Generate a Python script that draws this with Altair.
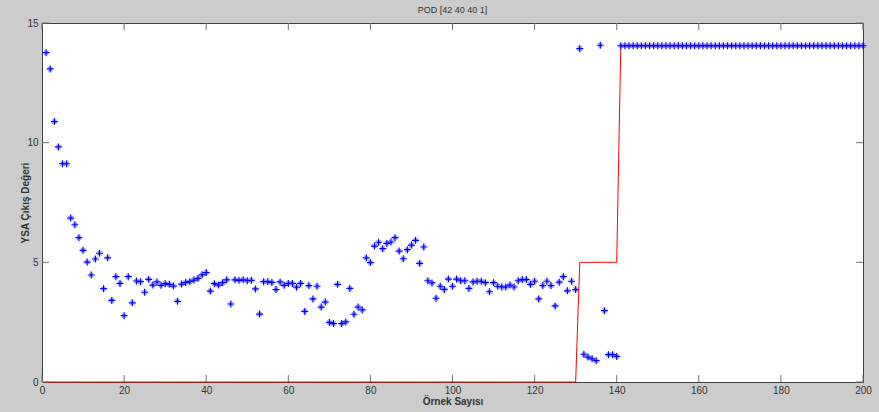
import altair as alt
import pandas as pd

# Sample index 1..200
sample_idx = list(range(1, 201))

# Network output (blue asterisks)
ysa_output = [
    13.76, 13.08, 10.88, 9.82, 9.12, 9.12, 6.85, 6.57, 6.03, 5.50,
    5.01, 4.47, 5.14, 5.38, 3.90, 5.19, 3.41, 4.40, 4.12, 2.77,
    4.40, 3.31, 4.22, 4.19, 3.75, 4.29, 4.05, 4.18, 4.04, 4.11,
    4.08, 4.01, 3.37, 4.09, 4.16, 4.19, 4.26, 4.33, 4.48, 4.57,
    3.80, 4.11, 4.05, 4.15, 4.27, 3.26, 4.27, 4.25, 4.27, 4.23,
    4.25, 3.89, 2.84, 4.19, 4.19, 4.16, 3.86, 4.18, 4.04, 4.12,
    4.12, 3.96, 4.12, 2.95, 4.03, 3.47, 4.00, 3.13, 3.34, 2.49,
    2.44, 4.08, 2.44, 2.51, 3.91, 2.83, 3.13, 3.01, 5.19, 4.99,
    5.68, 5.84, 5.57, 5.79, 5.85, 6.03, 5.47, 5.15, 5.53, 5.72,
    5.92, 4.96, 5.64, 4.23, 4.14, 3.50, 4.00, 3.87, 4.30, 4.00,
    4.30, 4.23, 4.23, 3.91, 4.18, 4.21, 4.21, 4.15, 3.77, 4.15,
    4.00, 3.97, 3.97, 4.05, 3.97, 4.23, 4.28, 4.28, 4.08, 4.21,
    3.47, 4.03, 4.21, 4.03, 3.18, 4.17, 4.40, 3.81, 4.21, 3.86,
    13.93, 1.16, 1.04, 0.97, 0.89, 14.07, 2.98, 1.14, 1.14, 1.07,
    14.05, 14.05, 14.05, 14.05, 14.05, 14.05, 14.05, 14.05, 14.05, 14.05,
    14.05, 14.05, 14.05, 14.05, 14.05, 14.05, 14.05, 14.05, 14.05, 14.05,
    14.05, 14.05, 14.05, 14.05, 14.05, 14.05, 14.05, 14.05, 14.05, 14.05,
    14.05, 14.05, 14.05, 14.05, 14.05, 14.05, 14.05, 14.05, 14.05, 14.05,
    14.05, 14.05, 14.05, 14.05, 14.05, 14.05, 14.05, 14.05, 14.05, 14.05,
    14.05, 14.05, 14.05, 14.05, 14.05, 14.05, 14.05, 14.05, 14.05, 14.05,
]

# Target values (red line)
target = (
    [0] * 130
    + [5, 5, 5, 5, 5, 5, 5, 5, 5, 5]
    + [14.05] * 60
)

x_ticks = [0, 20, 40, 60, 80, 100, 120, 140, 160, 180, 200]
y_ticks = [0, 5, 10, 15]

W, H = 821, 359
FONT = "Liberation Sans"

df = pd.DataFrame({"i": sample_idx, "ysa": ysa_output, "target": target})
dfx = pd.DataFrame({"t": x_ticks})
dfy = pd.DataFrame({"t": y_ticks})

xscale = alt.Scale(domain=[0, 200], nice=False, zero=False)
yscale = alt.Scale(domain=[0, 15], nice=False, zero=False)

xaxis = alt.Axis(
    values=x_ticks, ticks=False, domain=False, grid=False,
    labelFlush=False, labelOverlap=False, labelPadding=3,
    labelFontSize=10, labelColor="#333333", labelFont=FONT,
    title="Örnek Sayısı", titleFontSize=10, titleFontWeight="bold",
    titleFont=FONT, titleColor="#333333", titleY=14, titleBaseline="top",
)
yaxis = alt.Axis(
    values=y_ticks, ticks=False, domain=False, grid=False,
    labelFlush=False, labelOverlap=False, labelPadding=4,
    labelFontSize=10, labelColor="#333333", labelFont=FONT,
    title="YSA Çıkış Değeri", titleFontSize=10, titleFontWeight="bold",
    titleFont=FONT, titleColor="#333333", titleX=-12, titleY=H / 2,
    titleAngle=-90, titleBaseline="bottom", titleAlign="center",
)

plus_shape = "M-1,0L1,0M0,-1L0,1"
diag_shape = "M-0.6,-0.6L0.6,0.6M-0.6,0.6L0.6,-0.6"

line = alt.Chart(df).mark_line(color="#ff0000", strokeWidth=1).encode(
    x=alt.X("i:Q", scale=xscale, axis=xaxis),
    y=alt.Y("target:Q", scale=yscale, axis=yaxis),
)

pts_plus = alt.Chart(df).mark_point(
    shape=plus_shape, size=49, filled=False, color="#0000ff",
    strokeWidth=1.2, opacity=1,
).encode(
    x=alt.X("i:Q", scale=xscale),
    y=alt.Y("ysa:Q", scale=yscale),
)
pts_diag = alt.Chart(df).mark_point(
    shape=diag_shape, size=49, filled=False, color="#0000ff",
    strokeWidth=1.2, opacity=0.45,
).encode(
    x=alt.X("i:Q", scale=xscale),
    y=alt.Y("ysa:Q", scale=yscale),
)

tick_col = "#707070"
xt_bottom = alt.Chart(dfx).mark_rule(color=tick_col, strokeWidth=1).encode(
    x=alt.X("t:Q", scale=xscale), y=alt.value(H), y2=alt.value(H - 7))
xt_top = alt.Chart(dfx).mark_rule(color=tick_col, strokeWidth=1).encode(
    x=alt.X("t:Q", scale=xscale), y=alt.value(0), y2=alt.value(7))
yt_left = alt.Chart(dfy).mark_rule(color=tick_col, strokeWidth=1).encode(
    y=alt.Y("t:Q", scale=yscale), x=alt.value(0), x2=alt.value(7))
yt_right = alt.Chart(dfy).mark_rule(color=tick_col, strokeWidth=1).encode(
    y=alt.Y("t:Q", scale=yscale), x=alt.value(W), x2=alt.value(W - 7))

chart = alt.layer(
    xt_bottom, xt_top, yt_left, yt_right, line, pts_diag, pts_plus
).properties(
    width=W, height=H,
    title=alt.TitleParams(
        "POD [42 40 40 1]", fontSize=9, fontWeight="normal", font=FONT,
        color="#333333", anchor="middle", offset=3,
    ),
    autosize=alt.AutoSizeParams(type="none"),
    padding={"left": 42, "top": 23, "right": 16, "bottom": 30},
    background="#cccccc",
).configure_view(
    fill="white", stroke="#404040", strokeWidth=1,
)

chart.save("out.html", embed_options={"renderer": "svg", "actions": False})
